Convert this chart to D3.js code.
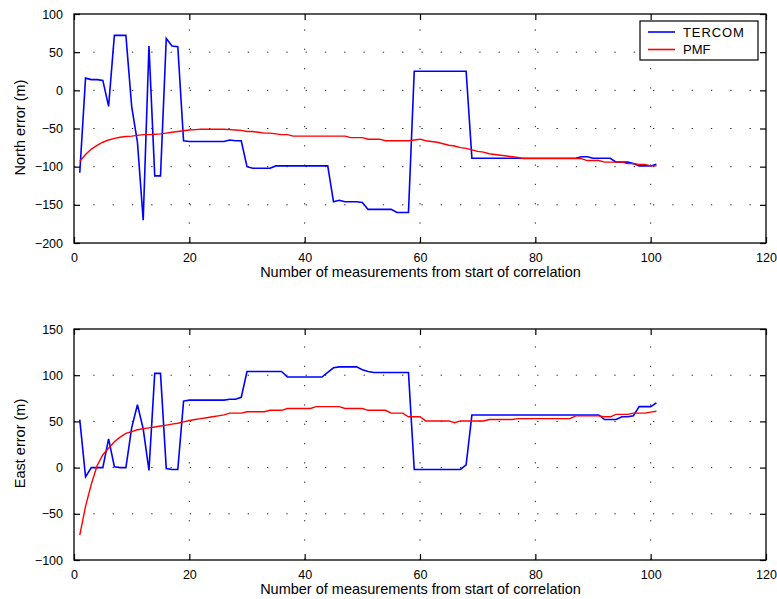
<!DOCTYPE html>
<html>
<head>
<meta charset="utf-8">
<script src="https://cdn.jsdelivr.net/npm/d3@7"></script>
<style>
  html, body { margin: 0; padding: 0; background: #fff; }
  svg { display: block; font-family: "Liberation Sans", Arial, sans-serif; }
</style>
</head>
<body>
<svg id="chart" width="777" height="599"></svg>
<script>
// Measurement index (1..101) shared by every series
const steps = d3.range(1, 102);

// North error, TERCOM fix (m)
const tercomNorth = [
  -108, 16, 14, 14, 13, -21, 72, 72, 72, -21,
  -68, -170, 58, -112, -112, 68, 58, 57, -66, -67,
  -67, -67, -67, -67, -67, -67, -65, -66, -66, -100,
  -102, -102, -102, -102, -99, -99, -99, -99, -99, -99,
  -99, -99, -99, -99, -146, -144, -146, -146, -146, -147,
  -156, -156, -156, -156, -156, -160, -160, -160, 25, 25,
  25, 25, 25, 25, 25, 25, 25, 25, -89, -89,
  -89, -89, -89, -89, -89, -89, -89, -89, -89, -89,
  -89, -89, -89, -89, -89, -89, -89, -87, -87, -89,
  -89, -89, -89, -94, -94, -94, -96, -99, -99, -99,
  -97
];

// North error, PMF estimate (m)
const pmfNorth = [
  -93, -84, -77, -72, -68, -65, -63, -61.5, -60.5, -60,
  -59, -58, -58, -57.5, -57, -56, -55, -54, -53, -52,
  -51.5, -51, -51, -51, -51, -51, -51.5, -52, -52.5, -54,
  -54, -55, -56, -56, -57, -58, -58, -60, -60, -60,
  -60, -60, -60, -60, -60, -60, -60, -62, -62, -62,
  -64, -64, -64, -66, -66, -66, -66, -66, -65, -64,
  -66, -67, -68, -70, -72, -73, -75, -76, -78, -80,
  -81, -83, -84, -85, -86, -87, -88, -89.5, -89.5, -89.5,
  -89.5, -89.5, -89.5, -89.5, -89.5, -89.5, -89.5, -89.5, -92, -92,
  -92, -94, -94, -94, -94, -96, -96, -97, -97, -99,
  -99
];

// East error, TERCOM fix (m)
const tercomEast = [
  52, -10, 0, 0, 0, 31, 1, 0, 0, 43,
  68, 42, -3, 102, 102, -1, -2, -2, 72, 73,
  73, 73, 73, 73, 73, 73, 74, 74, 76, 104,
  104, 104, 104, 104, 104, 104, 98, 98, 98, 98,
  98, 98, 98, 103, 108, 109, 109, 109, 109, 106,
  104, 103, 103, 103, 103, 103, 103, 103, -2, -2,
  -2, -2, -2, -2, -2, -2, -2, 3, 57, 57,
  57, 57, 57, 57, 57, 57, 57, 57, 57, 57,
  57, 57, 57, 57, 57, 57, 57, 57, 57, 57,
  57, 52, 52, 52, 55, 55, 56, 66, 66, 66,
  70
];

// East error, PMF estimate (m)
const pmfEast = [
  -73, -42, -18, 2, 14, 21, 28, 33, 37, 39,
  41, 42, 43, 44, 45, 46, 47, 48, 49.5, 51,
  52, 53, 54, 55, 56, 57, 59, 59, 59, 60.5,
  60.5, 60.5, 60.5, 62, 62, 62, 64, 64, 64, 64,
  64, 66, 66, 66, 66, 66, 64, 64, 64, 64,
  62, 62, 62, 62, 59, 59, 59, 55, 55, 55,
  50.5, 50.5, 50.5, 50.5, 50.5, 48.6, 50.5, 50.5, 50.5, 50.5,
  50.5, 52, 52, 52, 52, 52, 53, 53, 53, 53,
  53, 53, 53, 53, 53, 53, 56, 56, 56, 56,
  56, 55, 55, 57.6, 57.6, 57.6, 59, 59, 59, 60,
  61
];

// Tick values
const xTicks = [0, 20, 40, 60, 80, 100, 120];
const northTicks = [-200, -150, -100, -50, 0, 50, 100];
const eastTicks = [-100, -50, 0, 50, 100, 150];

// Series names and colours
const seriesNames = ["TERCOM", "PMF"];
const seriesColors = ["#0000ff", "#ff0000"];

const xLabel = "Number of measurements from start of correlation";

const svg = d3.select("#chart");
const left = 74, right = 766;
const x = d3.scaleLinear().domain([0, 120]).range([left, right]);

const panels = [
  { top: 14, bottom: 243, domain: [-200, 100], ticks: northTicks,
    yLabel: "North error (m)", series: [tercomNorth, pmfNorth], legend: true },
  { top: 329, bottom: 560, domain: [-100, 150], ticks: eastTicks,
    yLabel: "East error (m)", series: [tercomEast, pmfEast], legend: false }
];

const tickFont = "12.5px";
const labelFont = "14.5px";

panels.forEach(p => {
  const y = d3.scaleLinear().domain(p.domain).range([p.bottom, p.top]);
  const g = svg.append("g");

  // dotted grid
  const grid = g.append("g")
    .attr("stroke", "#222")
    .attr("stroke-width", 1)
    .attr("stroke-dasharray", "1.3 18");
  xTicks.slice(1, -1).forEach(t => {
    grid.append("line")
      .attr("x1", x(t)).attr("x2", x(t))
      .attr("y1", p.bottom).attr("y2", p.top);
  });
  p.ticks.slice(1, -1).forEach(t => {
    grid.append("line")
      .attr("x1", left).attr("x2", right)
      .attr("y1", y(t)).attr("y2", y(t));
  });

  // series lines
  p.series.forEach((vals, k) => {
    const line = d3.line()
      .x((d, i) => x(steps[i]))
      .y(d => y(d));
    g.append("path")
      .datum(vals)
      .attr("fill", "none")
      .attr("stroke", seriesColors[k])
      .attr("stroke-width", k === 0 ? 1.6 : 1.4)
      .attr("stroke-linejoin", "miter")
      .attr("d", line);
  });

  // axes with inward ticks on all four sides
  const styleAxis = sel => {
    sel.select(".domain").remove();
    sel.selectAll(".tick line").attr("stroke", "#000").attr("stroke-width", 1.2);
    sel.selectAll(".tick text")
      .attr("fill", "#000")
      .style("font-size", tickFont)
      .style("font-family", "'Liberation Sans', Arial, sans-serif");
  };
  g.append("g").attr("transform", `translate(0,${p.bottom})`)
    .call(d3.axisBottom(x).tickValues(xTicks).tickSize(-6).tickPadding(10))
    .call(styleAxis);
  g.append("g").attr("transform", `translate(0,${p.top})`)
    .call(d3.axisTop(x).tickValues(xTicks).tickSize(-6).tickFormat(""))
    .call(styleAxis);
  g.append("g").attr("transform", `translate(${left},0)`)
    .call(d3.axisLeft(y).tickValues(p.ticks).tickSize(-6).tickPadding(11))
    .call(styleAxis);
  g.append("g").attr("transform", `translate(${right},0)`)
    .call(d3.axisRight(y).tickValues(p.ticks).tickSize(-6).tickFormat(""))
    .call(styleAxis);

  // frame
  g.append("rect")
    .attr("x", left).attr("y", p.top)
    .attr("width", right - left).attr("height", p.bottom - p.top)
    .attr("fill", "none").attr("stroke", "#000").attr("stroke-width", 1.3);

  // axis titles
  g.append("text")
    .attr("x", (left + right) / 2 + 0.5)
    .attr("y", p.bottom + 34)
    .attr("text-anchor", "middle")
    .style("font-size", labelFont)
    .text(xLabel);
  g.append("text")
    .attr("transform", `translate(25,${(p.top + p.bottom) / 2 - 1}) rotate(-90)`)
    .attr("text-anchor", "middle")
    .style("font-size", labelFont)
    .text(p.yLabel);

  // legend
  if (p.legend) {
    const lg = g.append("g");
    lg.append("rect")
      .attr("x", 640).attr("y", 21).attr("width", 118).attr("height", 39)
      .attr("fill", "#fff").attr("stroke", "#000").attr("stroke-width", 1.2);
    seriesNames.forEach((name, k) => {
      const ly = 32 + k * 17.5;
      lg.append("line")
        .attr("x1", 648).attr("x2", 675)
        .attr("y1", ly).attr("y2", ly)
        .attr("stroke", seriesColors[k]).attr("stroke-width", 1.6);
      lg.append("text")
        .attr("x", 683).attr("y", ly + 4.5)
        .style("font-size", "13px")
        .style("letter-spacing", k === 0 ? "0.9px" : "0px")
        .text(name);
    });
  }
});
</script>
</body>
</html>
